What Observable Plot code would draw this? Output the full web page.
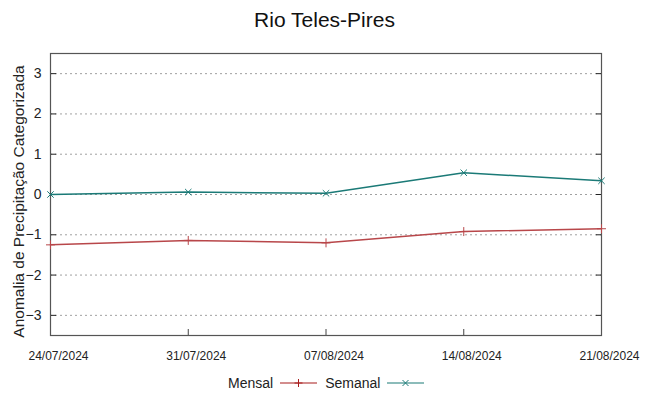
<!DOCTYPE html>
<html>
<head>
<meta charset="utf-8">
<script src="https://cdn.jsdelivr.net/npm/d3@7"></script>
<script src="https://cdn.jsdelivr.net/npm/@observablehq/plot@0.6"></script>
<style>
  body { margin: 0; background: white; font-family: "Liberation Sans", Arial, sans-serif; }
  #title { height: 40px; line-height: 40px; text-align: center; font-size: 21px; color: #111; width: 649px; }
  #legend { width: 649px; height: 26px; display: flex; align-items: center; font-size: 14px; color: #222; }
  #legend svg { display: inline-block; }
</style>
</head>
<body>
<div id="title">Rio Teles-Pires</div>
<div id="chart"></div>
<div id="legend"></div>
<script>
const dates = ["2024-07-24", "2024-07-31", "2024-08-07", "2024-08-14", "2024-08-21"];
const mensal = [-1.25, -1.14, -1.20, -0.92, -0.85];
const semanal = [0.00, 0.06, 0.03, 0.54, 0.34];
const yTicks = [-3, -2, -1, 0, 1, 2, 3];
const seriesNames = ["Mensal", "Semanal"];
const seriesColors = ["#b8474a", "#1b7a77"];

const parse = d3.utcParse("%Y-%m-%d");
const xDates = dates.map(parse);
const data = [];
xDates.forEach((d, i) => {
  data.push({date: d, value: mensal[i], serie: "Mensal"});
  data.push({date: d, value: semanal[i], serie: "Semanal"});
});
const mData = data.filter(d => d.serie === "Mensal");
const sData = data.filter(d => d.serie === "Semanal");

const chart = Plot.plot({
  width: 649,
  height: 330,
  marginTop: 13,
  marginBottom: 35,
  marginLeft: 50,
  marginRight: 48,
  style: {fontFamily: "Liberation Sans, Arial, sans-serif", color: "#222", background: "white"},
  x: {type: "utc", domain: [xDates[0], xDates[xDates.length - 1]]},
  y: {domain: [-3.5, 3.5]},
  marks: [
    Plot.gridY(yTicks, {stroke: "#888", strokeOpacity: 0.8, strokeDasharray: "2,3", strokeWidth: 1}),
    Plot.axisY(yTicks, {anchor: "left", tickSize: -6, tickPadding: 15, fontSize: 14, label: null, stroke: "#222"}),
    Plot.axisY(yTicks, {anchor: "right", tickSize: -6, tickFormat: () => "", label: null, stroke: "#222"}),
    Plot.axisX(xDates, {anchor: "bottom", tickSize: -6, tickFormat: () => "", label: null, stroke: "#444"}),
    Plot.axisX(xDates, {anchor: "bottom", tickSize: 0, tickPadding: 16, dx: 8, tickFormat: d3.utcFormat("%d/%m/%Y"), fontSize: 12, label: null}),
    Plot.frame({stroke: "#555", strokeWidth: 1.2}),
    Plot.line(mData, {x: "date", y: "value", stroke: seriesColors[0], strokeWidth: 1.5}),
    Plot.dot(mData, {x: "date", y: "value", symbol: "plus", stroke: seriesColors[0], r: 3, strokeWidth: 1}),
    Plot.line(sData, {x: "date", y: "value", stroke: seriesColors[1], strokeWidth: 1.5}),
    Plot.dot(sData, {x: "date", y: "value", symbol: "times", stroke: seriesColors[1], r: 3, strokeWidth: 1}),
    Plot.text(["Anomalia de Precipitação Categorizada"], {frameAnchor: "left", dx: -31, dy: 7, rotate: -90, textAnchor: "middle", lineAnchor: "middle", fontSize: 15.5, fill: "#222", text: d => d})
  ]
});
document.getElementById("chart").appendChild(chart);

// legend
const legend = document.getElementById("legend");
const spacer = document.createElement("div");
spacer.style.width = "228px";
legend.appendChild(spacer);
const symbolsPaths = ["M-4,0L4,0M0,-4L0,4", "M-3,-3L3,3M-3,3L3,-3"];
const legendColors = ["#a81c1c", "#1b7a77"];
seriesNames.forEach((name, i) => {
  const span = document.createElement("span");
  span.textContent = name;
  legend.appendChild(span);
  const svg = d3.create("svg").attr("width", i === 0 ? 52 : 46).attr("height", 14);
  const g = svg.append("g").attr("transform", "translate(7,7)");
  g.append("line").attr("x1", 0).attr("x2", 37).attr("stroke", legendColors[i]).attr("stroke-width", 1.2);
  g.append("path").attr("transform", "translate(18.5,0)").attr("d", symbolsPaths[i]).attr("stroke", legendColors[i]).attr("stroke-width", 1);
  legend.appendChild(svg.node());
});
</script>
</body>
</html>
